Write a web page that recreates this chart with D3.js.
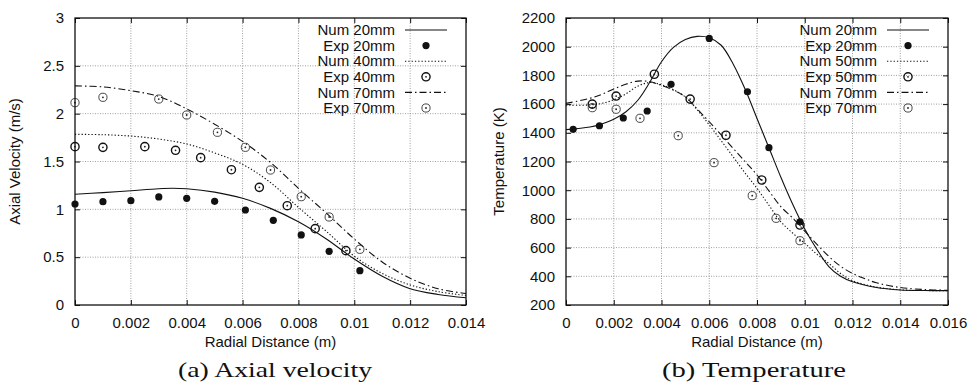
<!DOCTYPE html>
<html>

<head>
  <title></title>
  <script src="https://cdn.jsdelivr.net/npm/d3@7"></script>
</head>
<style>
  body { margin: 0; background: #fff; }
  svg text { font-family: "Liberation Sans", Arial, sans-serif; fill: #111; }
  .caption { font-family: "Liberation Serif", "DejaVu Serif", serif !important; }
</style>

<body>
  <svg id="chart" width="971" height="387"></svg>
  <script>
    // ---- panel (a): axial velocity ----
    var velXTicks = [0, 0.002, 0.004, 0.006, 0.008, 0.01, 0.012, 0.014];
    var velYTicks = [0, 0.5, 1, 1.5, 2, 2.5, 3];

    var velNum20 = [[0, 1.157], [0.001, 1.175], [0.002, 1.195], [0.003, 1.215], [0.0035, 1.22], [0.004, 1.215],
      [0.005, 1.18], [0.006, 1.115], [0.007, 1.01], [0.008, 0.87], [0.009, 0.69], [0.010, 0.48],
      [0.011, 0.30], [0.012, 0.17], [0.013, 0.11], [0.014, 0.075]];
    var velNum40 = [[0, 1.784], [0.001, 1.78], [0.002, 1.766], [0.003, 1.735], [0.004, 1.683], [0.005, 1.59],
      [0.006, 1.47], [0.007, 1.28], [0.008, 1.02], [0.009, 0.77], [0.010, 0.51], [0.011, 0.33],
      [0.012, 0.21], [0.013, 0.14], [0.014, 0.10]];
    var velNum70 = [[0, 2.29], [0.001, 2.28], [0.002, 2.24], [0.003, 2.18], [0.004, 2.05], [0.005, 1.89],
      [0.006, 1.71], [0.007, 1.49], [0.008, 1.22], [0.009, 0.96], [0.010, 0.69], [0.011, 0.45],
      [0.012, 0.28], [0.013, 0.17], [0.014, 0.12]];
    var velExp20 = [[0, 1.056], [0.001, 1.08], [0.002, 1.09], [0.003, 1.13], [0.004, 1.115], [0.005, 1.084],
      [0.0061, 0.993], [0.0071, 0.885], [0.0081, 0.732], [0.0091, 0.561], [0.0102, 0.359]];
    var velExp40 = [[0, 1.655], [0.001, 1.648], [0.0025, 1.655], [0.0036, 1.617], [0.0045, 1.54], [0.0056, 1.414],
      [0.0066, 1.23], [0.0076, 1.038], [0.0086, 0.798], [0.0097, 0.568]];
    var velExp70 = [[0, 2.115], [0.001, 2.171], [0.003, 2.153], [0.004, 1.986], [0.0051, 1.805], [0.0061, 1.648],
      [0.007, 1.411], [0.0081, 1.132], [0.0091, 0.92], [0.0102, 0.582]];

    // ---- panel (b): temperature ----
    var tempXTicks = [0, 0.002, 0.004, 0.006, 0.008, 0.01, 0.012, 0.014, 0.016];
    var tempYTicks = [200, 400, 600, 800, 1000, 1200, 1400, 1600, 1800, 2000, 2200];

    var tempNum20 = [[0, 1422], [0.001, 1440], [0.0015, 1462], [0.002, 1495], [0.0025, 1545], [0.003, 1625],
      [0.0035, 1750], [0.004, 1895], [0.0045, 1995], [0.005, 2050], [0.0055, 2072], [0.006, 2062],
      [0.0065, 2010], [0.007, 1880], [0.0075, 1705], [0.008, 1500], [0.0085, 1296], [0.009, 1090],
      [0.0095, 900], [0.010, 730], [0.0105, 590], [0.011, 470], [0.0115, 400], [0.012, 362],
      [0.013, 322], [0.014, 305], [0.015, 301], [0.016, 300]];
    var tempNum50 = [[0, 1592], [0.001, 1594], [0.0015, 1605], [0.002, 1630], [0.0025, 1670], [0.003, 1725],
      [0.0035, 1750], [0.004, 1735], [0.0045, 1700], [0.005, 1650], [0.0055, 1560], [0.006, 1455],
      [0.0065, 1345], [0.007, 1233], [0.0075, 1120], [0.008, 1013], [0.0085, 895], [0.009, 780],
      [0.0095, 700], [0.010, 630], [0.0105, 555], [0.011, 491], [0.0115, 420], [0.012, 370],
      [0.013, 325], [0.014, 306], [0.015, 301], [0.016, 300]];
    var tempNum70 = [[0, 1605], [0.001, 1640], [0.0015, 1668], [0.002, 1705], [0.0025, 1738], [0.003, 1760],
      [0.0035, 1757], [0.004, 1730], [0.0045, 1697], [0.005, 1650], [0.0055, 1565], [0.006, 1477],
      [0.0065, 1385], [0.007, 1292], [0.0075, 1200], [0.008, 1106], [0.0085, 995], [0.009, 885],
      [0.0095, 805], [0.010, 715], [0.0105, 625], [0.011, 540], [0.0115, 470], [0.012, 420],
      [0.0125, 385], [0.013, 355], [0.014, 322], [0.015, 308], [0.016, 302]];
    var tempExp20 = [[0.0003, 1424], [0.0014, 1449], [0.0024, 1503], [0.0034, 1552], [0.0044, 1738],
      [0.006, 2058], [0.0076, 1686], [0.0085, 1296], [0.0098, 780]];
    var tempExp50 = [[0.0011, 1600], [0.0021, 1656], [0.0037, 1808], [0.0052, 1635], [0.0067, 1383],
      [0.0082, 1071], [0.0098, 757]];
    var tempExp70 = [[0.0011, 1575], [0.0021, 1564], [0.0031, 1501], [0.0047, 1380], [0.0062, 1192],
      [0.0078, 962], [0.0088, 804], [0.0098, 648]];

    var svg = d3.select('#chart');

    var lineStyles = {
      solid: null,
      dotted: '1.3,2',
      dashdot: '7,3,1.5,3'
    };

    function drawPoint(g, x, y, kind) {
      if (kind === 'filled') {
        g.append('circle').attr('cx', x).attr('cy', y).attr('r', 3.6).attr('fill', '#111');
      } else {
        var bold = kind === 'ringBold';
        g.append('circle').attr('cx', x).attr('cy', y).attr('r', 4.1)
          .attr('fill', 'none').attr('stroke', bold ? '#111' : '#333').attr('stroke-width', bold ? 1.4 : 0.9);
        g.append('circle').attr('cx', x).attr('cy', y).attr('r', 0.9).attr('fill', '#222');
      }
    }

    function drawPanel(p) {
      var g = svg.append('g');
      var x = d3.scaleLinear().domain(p.xDomain).range([p.left, p.right]);
      var y = d3.scaleLinear().domain(p.yDomain).range([p.bottom, p.top]);

      // grid
      g.selectAll('.gx').data(p.xTicks.slice(1, -1)).enter().append('line')
        .attr('x1', x).attr('x2', x).attr('y1', p.top).attr('y2', p.bottom)
        .attr('stroke', '#888').attr('stroke-width', 0.8).attr('stroke-dasharray', '1,1.5');
      g.selectAll('.gy').data(p.yTicks.slice(1, -1)).enter().append('line')
        .attr('y1', y).attr('y2', y).attr('x1', p.left).attr('x2', p.right)
        .attr('stroke', '#888').attr('stroke-width', 0.8).attr('stroke-dasharray', '1,1.5');

      // axes with inward ticks (mirrored)
      var fmt = d3.format('');
      var ax = [
        [d3.axisBottom(x).tickValues(p.xTicks).tickFormat(fmt).tickSize(-5).tickPadding(12), 0, p.bottom, true],
        [d3.axisTop(x).tickValues(p.xTicks).tickSize(-5), 0, p.top, false],
        [d3.axisLeft(y).tickValues(p.yTicks).tickFormat(fmt).tickSize(-5).tickPadding(11), p.left, 0, true],
        [d3.axisRight(y).tickValues(p.yTicks).tickSize(-5), p.right, 0, false]
      ];
      ax.forEach(function (a) {
        var ag = g.append('g').attr('transform', 'translate(' + a[1] + ',' + a[2] + ')').call(a[0]);
        ag.select('.domain').remove();
        ag.selectAll('line').attr('stroke', '#111');
        ag.selectAll('text').style('font-size', '15px').attr('fill', '#111');
        if (!a[3]) ag.selectAll('text').remove();
      });

      // curves
      var line = d3.line().x(function (d) { return x(d[0]); }).y(function (d) { return y(d[1]); })
        .curve(d3.curveCatmullRom.alpha(0.5));
      p.curves.forEach(function (c) {
        g.append('path').attr('d', line(c.data)).attr('fill', 'none')
          .attr('stroke', '#111').attr('stroke-width', 1.1)
          .attr('stroke-dasharray', lineStyles[c.style]);
      });

      // points
      p.points.forEach(function (s) {
        s.data.forEach(function (d) { drawPoint(g, x(d[0]), y(d[1]), s.kind); });
      });

      // frame
      g.append('rect').attr('x', p.left).attr('y', p.top)
        .attr('width', p.right - p.left).attr('height', p.bottom - p.top)
        .attr('fill', 'none').attr('stroke', '#111').attr('stroke-width', 1.3);

      // legend
      var items = [];
      p.curves.forEach(function (c, i) {
        items.push({ label: c.label, line: c.style });
        items.push({ label: p.points[i].label, kind: p.points[i].kind });
      });
      items.forEach(function (it, i) {
        var ly = 30 + i * 15.6;
        g.append('text').attr('x', p.legendX).attr('y', ly).attr('dy', '0.35em')
          .attr('text-anchor', 'end').style('font-size', '15px').text(it.label);
        if (it.line) {
          g.append('line').attr('x1', p.legendX + 10).attr('x2', p.legendX + 52)
            .attr('y1', ly).attr('y2', ly).attr('stroke', '#111').attr('stroke-width', 1.1)
            .attr('stroke-dasharray', lineStyles[it.line]);
        } else {
          drawPoint(g, p.legendX + 31, ly, it.kind);
        }
      });

      // titles
      g.append('text').attr('x', (p.left + p.right) / 2).attr('y', 347)
        .attr('text-anchor', 'middle').style('font-size', '15px').text('Radial Distance (m)');
      g.append('text').attr('transform', 'translate(' + p.yTitleX + ',' + ((p.top + p.bottom) / 2) + ') rotate(-90)')
        .attr('text-anchor', 'middle').style('font-size', '15px').text(p.yTitle);
      g.append('text').attr('class', 'caption').attr('x', p.captionX).attr('y', 377)
        .attr('text-anchor', 'middle').style('font-size', '21px')
        .attr('textLength', p.captionW).attr('lengthAdjust', 'spacingAndGlyphs').text(p.caption);
    }

    drawPanel({
      left: 75, right: 466, top: 18, bottom: 305,
      xDomain: [0, 0.014], yDomain: [0, 3],
      xTicks: velXTicks, yTicks: velYTicks,
      curves: [
        { label: 'Num 20mm', style: 'solid', data: velNum20 },
        { label: 'Num 40mm', style: 'dotted', data: velNum40 },
        { label: 'Num 70mm', style: 'dashdot', data: velNum70 }
      ],
      points: [
        { label: 'Exp 20mm', kind: 'filled', data: velExp20 },
        { label: 'Exp 40mm', kind: 'ringBold', data: velExp40 },
        { label: 'Exp 70mm', kind: 'ring', data: velExp70 }
      ],
      legendX: 395,
      yTitle: 'Axial Velocity (m/s)', yTitleX: 20,
      caption: '(a)  Axial velocity', captionX: 275, captionW: 194
    });

    drawPanel({
      left: 566, right: 948, top: 18, bottom: 305,
      xDomain: [0, 0.016], yDomain: [200, 2200],
      xTicks: tempXTicks, yTicks: tempYTicks,
      curves: [
        { label: 'Num 20mm', style: 'solid', data: tempNum20 },
        { label: 'Num 50mm', style: 'dotted', data: tempNum50 },
        { label: 'Num 70mm', style: 'dashdot', data: tempNum70 }
      ],
      points: [
        { label: 'Exp 20mm', kind: 'filled', data: tempExp20 },
        { label: 'Exp 50mm', kind: 'ringBold', data: tempExp50 },
        { label: 'Exp 70mm', kind: 'ring', data: tempExp70 }
      ],
      legendX: 877,
      yTitle: 'Temperature (K)', yTitleX: 504,
      caption: '(b)  Temperature', captionX: 754, captionW: 184
    });
  </script>
</body>

</html>
